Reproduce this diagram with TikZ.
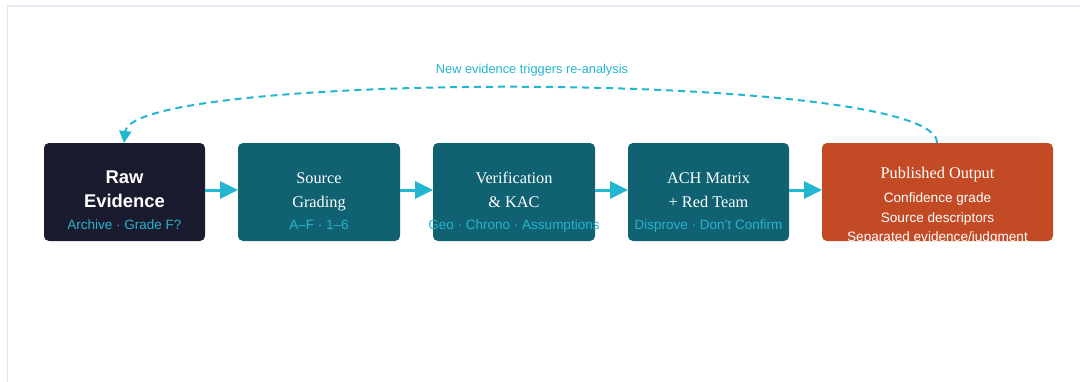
\documentclass[tikz,border=0pt]{standalone}
\usepackage{fontspec}
\setmainfont{Liberation Serif}
\setsansfont{Liberation Sans}
\usetikzlibrary{arrows.meta}
\definecolor{frameline}{HTML}{E2E8F0}
\definecolor{navy}{HTML}{1B1B2F}
\definecolor{tealbox}{HTML}{106272}
\definecolor{rust}{HTML}{C24A25}
\definecolor{accent}{HTML}{22B6D0}
\definecolor{subtxt}{HTML}{2AB2CC}
\tikzset{
  stage/.style={rounded corners=5pt, inner sep=0pt, outer sep=0pt},
  ttl/.style={anchor=base, text=white, font=\fontsize{16.3}{16.3}\selectfont, inner sep=0pt},
  ttlbold/.style={anchor=base, text=white, font=\sffamily\bfseries\fontsize{18.4}{18.4}\selectfont, inner sep=0pt},
  sub/.style={anchor=base, text=subtxt, font=\sffamily\fontsize{13.5}{13.5}\selectfont, inner sep=0pt},
  note/.style={anchor=base, text=accent, font=\sffamily\fontsize{12.8}{12.8}\selectfont, inner sep=0pt},
  outline/.style={anchor=base, text=white, font=\sffamily\fontsize{13.6}{13.6}\selectfont, inner sep=0pt},
  flow/.style={draw=accent, line width=3pt, -{Triangle[length=18pt,width=17pt]}},
  loop/.style={draw=accent, line width=2pt, dash pattern=on 7pt off 5pt, -{Triangle[length=12pt,width=12pt]}},
}
\begin{document}
\begin{tikzpicture}[x=1pt, y=-1pt]
\useasboundingbox (0,0) rectangle (1080,381);
\fill[white] (0,0) rectangle (1080,381);
% outer frame, running off the right and bottom edges
\draw[frameline, line width=1.2pt] (7.5,390) -- (7.5,6) -- (1090,6);

% stage boxes
\fill[navy, stage] (44,143) rectangle (205,241);
\coordinate (b1w) at (44,190); \coordinate (b1e) at (205,190); \coordinate (b1n) at (124,143);
\fill[tealbox, stage] (238,143) rectangle (400,241);
\coordinate (b2w) at (238,190); \coordinate (b2e) at (400,190);
\fill[tealbox, stage] (433,143) rectangle (595,241);
\coordinate (b3w) at (433,190); \coordinate (b3e) at (595,190);
\fill[tealbox, stage] (628,143) rectangle (789,241);
\coordinate (b4w) at (628,190); \coordinate (b4e) at (789,190);
\fill[rust, stage] (822,143) rectangle (1053,241);
\coordinate (b5w) at (822,190); \coordinate (b5n) at (937,143);

% texts
\node[ttlbold] (t1a) at (124.5,183) {Raw};
\node[ttlbold] (t1b) at (124.5,207) {Evidence};
\node[sub] (s1) at (124.5,229) {Archive · Grade F?};

\node[ttl] (t2a) at (319,183) {Source};
\node[ttl] (t2b) at (319,207) {Grading};
\node[sub] (s2) at (319,229) {A–F · 1–6};

\node[ttl] (t3a) at (514,183) {Verification};
\node[ttl] (t3b) at (514,207) {\& KAC};
\node[sub] (s3) at (514,229) {Geo · Chrono · Assumptions};

\node[ttl] (t4a) at (708.5,183) {ACH Matrix};
\node[ttl] (t4b) at (708.5,207) {+ Red Team};
\node[sub] (s4) at (708.5,229) {Disprove · Don't Confirm};

\begin{scope}
\clip[stage] (822,143) rectangle (1053,241);
\node[ttl] (t5) at (937.5,178) {Published Output};
\node[outline] (o1) at (937.5,202.5) {Confidence grade};
\node[outline] (o2) at (937.5,222) {Source descriptors};
\node[outline] (o3) at (937.5,241.5) {Separated evidence/judgment};
\end{scope}

% flow arrows
\draw[flow] (b1e) -- (b2w);
\draw[flow] (b2e) -- (b3w);
\draw[flow] (b3e) -- (b4w);
\draw[flow] (b4e) -- (b5w);

% feedback loop over the top
\draw[loop] (b5n) .. controls (940,70) and (132,70) .. (b1n);
\node[note] (lbl) at (532,73.3) {New evidence triggers re-analysis};
\end{tikzpicture}
\end{document}
